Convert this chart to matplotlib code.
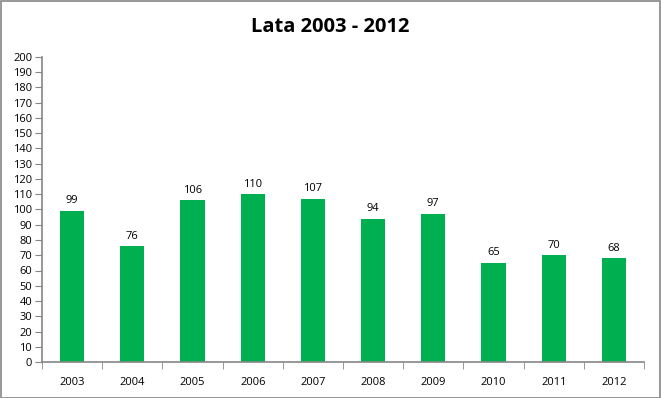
import matplotlib
matplotlib.use("Agg")
import matplotlib.pyplot as plt
from matplotlib.patches import Rectangle

years = ["2003", "2004", "2005", "2006", "2007", "2008", "2009", "2010", "2011", "2012"]
values = [99, 76, 106, 110, 107, 94, 97, 65, 70, 68]
title = "Lata 2003 - 2012"

plt.rcParams['font.family'] = ['Open Sans', 'DejaVu Sans']

W, H = 661, 398
fig = plt.figure(figsize=(W / 100, H / 100), dpi=100)
fig.patch.set_facecolor("white")
fig.patches.append(Rectangle((0.5 / W, 0.5 / H), 1 - 1.5 / W, 1 - 1.5 / H, transform=fig.transFigure,
                             fill=False, edgecolor="#868686", linewidth=1.2))

ax = fig.add_axes([42 / W, (H - 362) / H, (644 - 42) / W, (362 - 57) / H])
x = list(range(len(years)))
ax.bar(x, values, width=0.4, color="#00B050")
for xi, v in zip(x, values):
    ax.text(xi, v + 3, str(v), ha="center", va="bottom", fontsize=8, color="black")

ax.set_xlim(-0.5, len(years) - 0.5)
ax.set_ylim(0, 200)
ax.set_yticks(range(0, 201, 10))
ax.set_xticks(x)
ax.set_xticklabels(years)
ax.set_xticks([i - 0.5 for i in range(len(years) + 1)], minor=True)
ax.tick_params(axis="x", which="major", length=0, pad=11, labelsize=8)
ax.tick_params(axis="x", which="minor", length=5, color="#868686", direction="out")
ax.tick_params(axis="y", length=5, color="#868686", labelsize=8, pad=2)
for s in ["top", "right"]:
    ax.spines[s].set_visible(False)
for s in ["left", "bottom"]:
    ax.spines[s].set_color("#868686")
    ax.spines[s].set_linewidth(1.2)

fig.text(0.5, (H - 27) / H, title, ha="center", va="center", fontsize=14.5, fontweight="bold")

fig.savefig("out.png", dpi=100)
